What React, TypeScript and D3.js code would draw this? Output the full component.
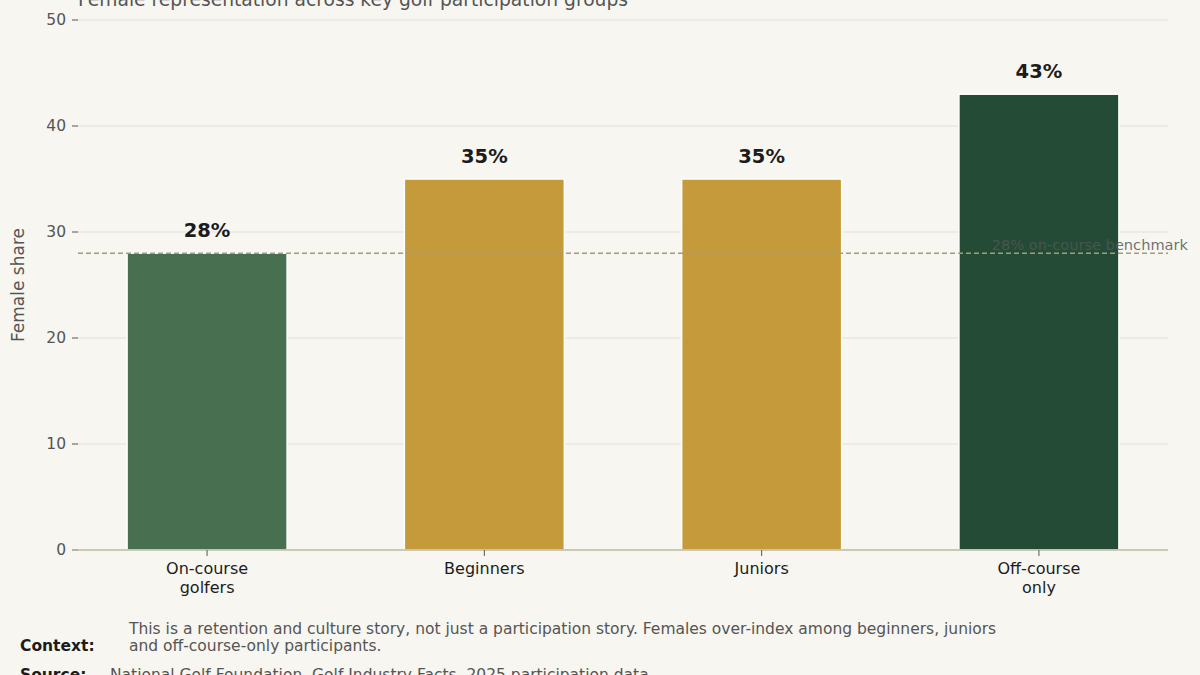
import React from "react";
import * as d3 from "d3";

// datos del gráfico
const categories = ["On-course\ngolfers", "Beginners", "Juniors", "Off-course\nonly"];
const femaleShare = [28, 35, 35, 43];
const barColors = ["#486f50", "#c49a3b", "#c49a3b", "#234b36"];
const yTicks = [0, 10, 20, 30, 40, 50];
const benchmark = 28;

const W = 1200;
const H = 675;
const margin = { left: 78, right: 32, top: 20, bottom: 125 };
const FONT = "DejaVu Sans, sans-serif";

const App: React.FC = () => {
  const x = d3
    .scaleBand<string>()
    .domain(categories)
    .range([margin.left, W - margin.right])
    .paddingInner(0.423)
    .paddingOuter(0.177);
  const y = d3.scaleLinear().domain([0, 50]).range([H - margin.bottom, margin.top]);

  return (
    <svg
      width={W}
      height={H}
      style={{ position: "fixed", left: 0, top: 0, display: "block" }}
      fontFamily={FONT}
    >
      <rect width={W} height={H} fill="#f7f6f0" />
      {/* título (cortado arriba) */}
      <text x={margin.left} y={6} fontSize={18.7} fill="#555">
        Female representation across key golf participation groups
      </text>

      {/* rejilla y eje Y */}
      {yTicks.map((t) => (
        <g key={t}>
          {t > 0 && (
            <line x1={margin.left} x2={W - margin.right} y1={y(t)} y2={y(t)} stroke="#e2e0d8" strokeWidth={1.2} />
          )}
          <line x1={margin.left - 6} x2={margin.left} y1={y(t)} y2={y(t)} stroke="#555" strokeWidth={1} />
          <text x={margin.left - 12} y={y(t)} dy="0.35em" textAnchor="end" fontSize={15.5} fill="#555">
            {t}
          </text>
        </g>
      ))}
      <text
        transform={`translate(24,${(y(0) + y(50)) / 2}) rotate(-90)`}
        textAnchor="middle"
        fontSize={17}
        fill="#555"
      >
        Female share
      </text>

      {/* barras */}
      {categories.map((c, i) => (
        <g key={c}>
          <rect
            x={x(c)!}
            y={y(femaleShare[i])}
            width={x.bandwidth()}
            height={y(0) - y(femaleShare[i])}
            fill={barColors[i]}
            stroke="#ffffff"
            strokeWidth={1.5}
          />
          <text
            x={x(c)! + x.bandwidth() / 2}
            y={y(femaleShare[i]) - 16}
            textAnchor="middle"
            fontSize={19.5}
            fontWeight="bold"
            fill="#1c1c1c"
          >
            {femaleShare[i]}%
          </text>
        </g>
      ))}

      {/* línea de referencia */}
      <line
        x1={margin.left}
        x2={W - margin.right}
        y1={y(benchmark)}
        y2={y(benchmark)}
        stroke="#a59b7c"
        strokeWidth={1.6}
        strokeDasharray="5,3"
      />
      <text x={1188} y={y(benchmark) - 3} textAnchor="end" fontSize={14.6} fill="#555" fillOpacity={0.85}>
        28% on-course benchmark
      </text>

      {/* eje X */}
      <line x1={margin.left - 6} x2={W - margin.right} y1={y(0)} y2={y(0)} stroke="#bdb8a6" strokeWidth={1.5} />
      {categories.map((c) => (
        <g key={c} transform={`translate(${x(c)! + x.bandwidth() / 2},${y(0)})`}>
          <line y1={0} y2={6} stroke="#555" />
          {c.split("\n").map((line, k) => (
            <text key={k} y={24 + k * 18.5} textAnchor="middle" fontSize={16} fill="#1c1c1c">
              {line}
            </text>
          ))}
        </g>
      ))}

      {/* notas */}
      <text x={20} y={651} fontSize={15.5} fontWeight="bold" fill="#1c1c1c">
        Context:
      </text>
      <text x={129} y={634} fontSize={15.5} fill="#555">
        This is a retention and culture story, not just a participation story. Females over-index among beginners, juniors
      </text>
      <text x={129} y={651} fontSize={15.5} fill="#555">
        and off-course-only participants.
      </text>
      <text x={20} y={680} fontSize={15.5} fontWeight="bold" fill="#1c1c1c">
        Source:
      </text>
      <text x={110} y={680} fontSize={15.5} fill="#555">
        National Golf Foundation, Golf Industry Facts, 2025 participation data
      </text>
    </svg>
  );
};

export default App;
